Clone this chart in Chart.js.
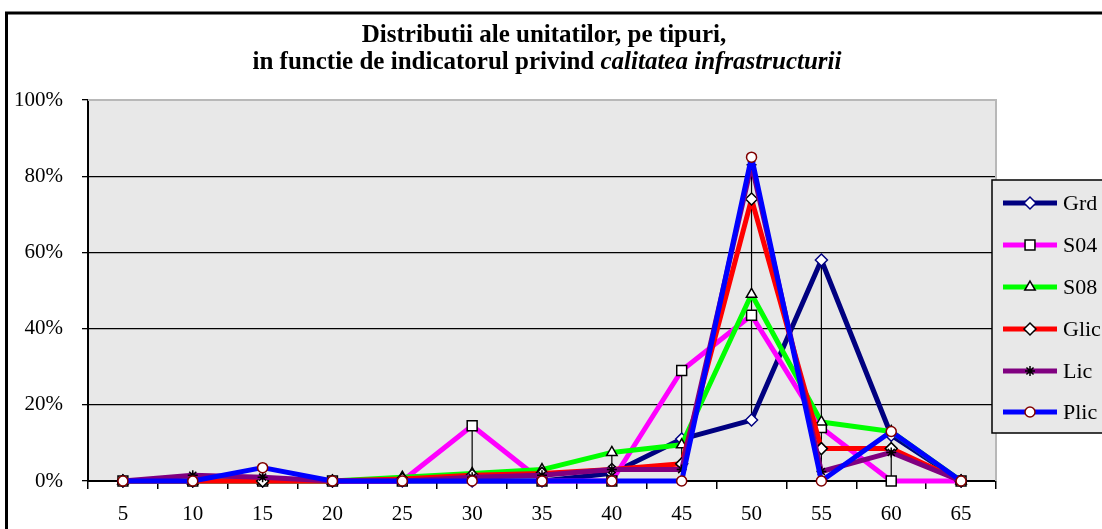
<!DOCTYPE html>
<html>
<head>
<meta charset="utf-8">
<script src="https://cdn.jsdelivr.net/npm/chart.js@4"></script>
<style>
  html, body { margin: 0; padding: 0; background: #fff; }
  canvas { display: block; }
</style>
</head>
<body>
<canvas id="chart" width="1102" height="529"></canvas>
<script>
// categories (indicator value) and share of units per type, in percent
var categories = ['5', '10', '15', '20', '25', '30', '35', '40', '45', '50', '55', '60', '65'];
var grd  = [0, 0, 0, 0, 0, 0, 0, 2, 11, 16, 58, 12, 0];
var s04  = [0, 0, 0, 0, 0, 14.5, 0, 0, 29, 43.5, 14, 0, 0];
var s08  = [0, 0, 0, 0, 1, 2, 3, 7.5, 9.5, 49, 15.5, 13, 0];
var glic = [0, 0, 0, 0, 0.5, 1.5, 2, 3, 4.5, 74, 8.5, 8.5, 0];
var lic  = [0, 1.5, 1, 0, 0, 1, 1.5, 3, 3, 83, 2.5, 7.5, 0];
var plic = [0, 0, 3.5, 0, 0, 0, 0, 0, 0, 85, 0, 13, 0];
var yTicks = [0, 20, 40, 60, 80, 100];

var serif = '"Liberation Serif", "Times New Roman", serif';

function series(label, data, color, style, radius, border, order) {
  return {
    label: label,
    data: data,
    borderColor: color,
    backgroundColor: color,
    borderWidth: 5,
    borderJoinStyle: 'round',
    tension: 0,
    pointStyle: style,
    pointRadius: radius,
    pointBackgroundColor: '#fff',
    pointBorderColor: border,
    pointBorderWidth: 1.5,
    clip: false,
    order: order
  };
}

// frame, plot background, title
var decor = {
  id: 'decor',
  beforeDraw: function (chart) {
    var c = chart.ctx, a = chart.chartArea;
    c.save();
    c.fillStyle = '#fff';
    c.fillRect(0, 0, chart.width, chart.height);
    c.lineWidth = 3;
    c.strokeStyle = '#000';
    c.strokeRect(6.5, 13, chart.width + 20, chart.height + 20);
    c.fillStyle = '#e8e8e8';
    c.fillRect(a.left, a.top, a.right - a.left, a.bottom - a.top);

    c.fillStyle = '#000';
    c.textBaseline = 'alphabetic';
    c.textAlign = 'left';
    c.font = 'bold 25px ' + serif;
    var t1 = 'Distributii ale unitatilor, pe tipuri,';
    var w1 = c.measureText(t1).width;
    c.fillText(t1, 544 - w1 / 2, 42);
    var p1 = 'in functie de indicatorul privind ';
    var p2 = 'calitatea infrastructurii';
    var wa = c.measureText(p1).width;
    c.font = 'italic bold 25px ' + serif;
    var wb = c.measureText(p2).width;
    var x0 = 547 - (wa + wb) / 2;
    c.font = 'bold 25px ' + serif;
    c.fillText(p1, x0, 69);
    c.font = 'italic bold 25px ' + serif;
    c.fillText(p2, x0 + wa, 69);
    c.restore();
  },
  beforeDatasetsDraw: function (chart) {
    var c = chart.ctx, a = chart.chartArea;
    var xs = chart.scales.x, ys = chart.scales.y;
    c.save();
    // plot area border (top / right)
    c.strokeStyle = '#b8b8b8';
    c.lineWidth = 2;
    c.beginPath();
    c.moveTo(a.left, a.top);
    c.lineTo(a.right, a.top);
    c.lineTo(a.right, a.bottom);
    c.stroke();
    // high-low lines
    c.strokeStyle = '#000';
    c.lineWidth = 1.2;
    var ds = chart.data.datasets;
    for (var i = 0; i < categories.length; i++) {
      var hi = -Infinity, lo = Infinity;
      ds.forEach(function (d) {
        hi = Math.max(hi, d.data[i]);
        lo = Math.min(lo, d.data[i]);
      });
      if (hi > lo) {
        var x = xs.getPixelForValue(i);
        c.beginPath();
        c.moveTo(x, ys.getPixelForValue(lo));
        c.lineTo(x, ys.getPixelForValue(hi));
        c.stroke();
      }
    }
    c.restore();
  },
  afterDraw: function (chart) {
    var c = chart.ctx;
    c.save();
    c.fillStyle = '#e8e8e8';
    c.fillRect(992, 180, 140, 253);
    c.strokeStyle = '#000';
    c.lineWidth = 1.5;
    c.strokeRect(992, 180, 140, 253);
    var rowY = [203, 245, 287, 329, 371, 412];
    chart.data.datasets.forEach(function (d, i) {
      var y = rowY[i];
      c.strokeStyle = d.borderColor;
      c.lineWidth = 5;
      c.beginPath();
      c.moveTo(1003, y);
      c.lineTo(1057, y);
      c.stroke();
      c.fillStyle = '#fff';
      c.strokeStyle = d.pointBorderColor;
      c.lineWidth = 1.5;
      Chart.helpers.drawPoint(c, { pointStyle: d.pointStyle, radius: d.pointRadius, rotation: 0, borderWidth: 1.5 }, 1030, y);
      c.fillStyle = '#000';
      c.font = '22px ' + serif;
      c.textBaseline = 'middle';
      c.textAlign = 'left';
      c.fillText(d.label, 1063, y + 1);
    });
    c.restore();
  }
};

new Chart(document.getElementById('chart').getContext('2d'), {
  type: 'line',
  data: {
    labels: categories,
    datasets: [
      series('Grd', grd, '#000080', 'rectRot', 6, '#000080', 6),
      series('S04', s04, '#ff00ff', 'rect', 7, '#000', 5),
      series('S08', s08, '#00ff00', 'triangle', 6, '#000', 4),
      series('Glic', glic, '#ff0000', 'rectRot', 6, '#000', 3),
      series('Lic', lic, '#800080', 'star', 5, '#000', 2),
      series('Plic', plic, '#0000ff', 'circle', 5, '#800000', 1)
    ]
  },
  plugins: [decor],
  options: {
    responsive: false,
    animation: false,
    layout: { padding: { top: 100, right: 106, bottom: 0, left: 0 } },
    plugins: {
      legend: { display: false },
      title: { display: false },
      tooltip: { enabled: false }
    },
    scales: {
      x: {
        offset: true,
        afterFit: function (s) { s.height = 48; },
        grid: { offset: true, drawOnChartArea: false, drawTicks: true, tickLength: 8, color: '#000', lineWidth: 1.5 },
        border: { display: true, color: '#000', width: 2 },
        ticks: { color: '#000', font: { family: serif, size: 21 }, padding: 13, maxRotation: 0, autoSkip: false }
      },
      y: {
        min: 0,
        max: 100,
        afterFit: function (s) { s.width = 88; },
        afterBuildTicks: function (s) { s.ticks = yTicks.map(function (v) { return { value: v }; }); },
        grid: { color: '#000', lineWidth: 1.3, tickLength: 6 },
        border: { display: true, color: '#000', width: 2 },
        ticks: { color: '#000', font: { family: serif, size: 21 }, padding: 19, callback: function (v) { return v + '%'; } }
      }
    }
  }
});
</script>
</body>
</html>
